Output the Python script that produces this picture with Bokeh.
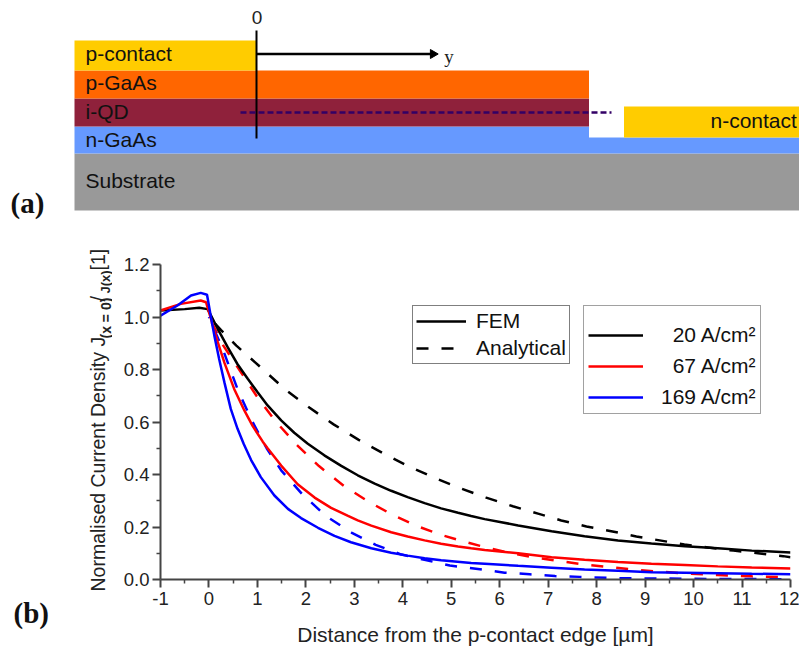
import math
from bokeh.core.properties import value
from bokeh.embed import file_html
from bokeh.resources import INLINE
from bokeh.layouts import column, row
from bokeh.models import (Range1d, LinearAxis, FixedTicker, Legend, LegendItem, NumeralTickFormatter)
from bokeh.plotting import figure

# ---- panel (a): layer stack, page pixel coordinates
layer_names = ["Substrate", "n-GaAs", "n-GaAs step", "i-QD", "p-GaAs", "p-contact", "n-contact"]
layer_left = [74, 74, 588.5, 74, 74, 74, 623.5]
layer_right = [799, 588.5, 799, 588.5, 588.5, 256, 799]
layer_top = [153, 126, 137, 98, 70, 40, 106]
layer_bottom = [210, 153, 153, 126, 98, 70, 137]
layer_colors = ["#999999", "#6699FF", "#6699FF", "#8F213B", "#FF6600", "#FFCC00", "#FFCC00"]
label_text = ["p-contact", "p-GaAs", "i-QD", "n-GaAs", "Substrate", "n-contact"]
label_x = [85, 85, 85, 85, 85, 710]
label_y = [53, 82, 111, 139, 180, 120]

# ---- panel (b): curves
x_black = [-1, -0.5, -0.2, -0.03, 0.03, 0.18, 0.386, 0.59, 0.8, 1.0, 1.21, 1.49, 1.76, 2.04, 2.38, 2.73, 3.07, 3.42, 3.76, 4.1, 4.45, 4.79, 5.14, 5.41, 5.69, 6.38, 7.07, 7.75, 8.44, 9.13, 9.82, 10.5, 11.2, 12]
y_black = [1.025, 1.03, 1.035, 1.03, 1.01, 0.955, 0.885, 0.82, 0.765, 0.714, 0.663, 0.606, 0.559, 0.517, 0.473, 0.433, 0.397, 0.365, 0.338, 0.314, 0.291, 0.271, 0.254, 0.242, 0.230, 0.206, 0.184, 0.165, 0.149, 0.137, 0.127, 0.119, 0.11, 0.103]
x_red = [-1, -0.58, -0.17, -0.06, 0.03, 0.18, 0.32, 0.52, 0.73, 0.9, 1.11, 1.21, 1.49, 1.83, 2.18, 2.52, 2.87, 3.07, 3.35, 3.76, 4.1, 4.45, 4.79, 5.14, 5.41, 5.69, 6.38, 7.07, 7.75, 8.44, 9.13, 9.82, 10.5, 11.2, 12]
y_red = [1.025, 1.05, 1.063, 1.056, 1.0, 0.905, 0.825, 0.726, 0.644, 0.585, 0.525, 0.5, 0.434, 0.363, 0.312, 0.273, 0.242, 0.225, 0.205, 0.18, 0.164, 0.149, 0.136, 0.126, 0.119, 0.112, 0.10, 0.085, 0.075, 0.067, 0.06, 0.055, 0.05, 0.046, 0.042]
x_blue = [-1, -0.65, -0.37, -0.17, -0.04, 0.04, 0.11, 0.21, 0.32, 0.45, 0.59, 0.72, 0.87, 1.07, 1.35, 1.63, 1.9, 2.25, 2.59, 2.93, 3.35, 3.76, 4.1, 4.45, 4.79, 5.41, 5.69, 6.38, 7.07, 7.75, 8.44, 9.13, 9.82, 10.5, 11.2, 12]
y_blue = [1.005, 1.044, 1.082, 1.092, 1.085, 1.0, 0.93, 0.84, 0.75, 0.65, 0.574, 0.515, 0.455, 0.39, 0.32, 0.269, 0.234, 0.197, 0.166, 0.142, 0.119, 0.102, 0.091, 0.081, 0.073, 0.063, 0.06, 0.052, 0.045, 0.038, 0.033, 0.028, 0.026, 0.024, 0.022, 0.02]
xd_black = [0, 0.25, 0.565, 1.07, 1.56, 2.07, 2.58, 3.09, 3.6, 4.1, 4.62, 5.12, 5.72, 6.27, 6.79, 7.27, 7.79, 8.3, 8.82, 9.3, 9.81, 10.3, 10.82, 11.33, 11.85, 12]
yd_black = [1.0, 0.95, 0.891, 0.808, 0.726, 0.655, 0.59, 0.532, 0.48, 0.433, 0.39, 0.352, 0.312, 0.279, 0.251, 0.225, 0.202, 0.184, 0.164, 0.149, 0.133, 0.122, 0.11, 0.10, 0.089, 0.085]
xd_red = [0, 0.3, 0.64, 0.98, 1.36, 1.79, 2.27, 2.78, 3.29, 3.8, 4.3, 4.81, 5.31, 5.72, 6.24, 6.72, 7.23, 7.75, 8.27, 8.79, 9.3, 9.81, 10.5, 11.2, 12]
yd_red = [1.0, 0.89, 0.795, 0.70, 0.606, 0.517, 0.432, 0.357, 0.297, 0.245, 0.203, 0.169, 0.142, 0.122, 0.10, 0.084, 0.07, 0.057, 0.047, 0.037, 0.03, 0.023, 0.017, 0.012, 0.008]
xd_blue = [0, 0.3, 0.6, 0.9, 1.19, 1.49, 1.93, 2.42, 2.94, 3.44, 3.97, 4.47, 4.97, 5.55, 6.1, 6.62, 7.14, 7.65, 8.44, 9.13, 9.82, 10.5, 12]
yd_blue = [1.0, 0.87, 0.72, 0.60, 0.50, 0.416, 0.324, 0.241, 0.179, 0.132, 0.095, 0.074, 0.053, 0.04, 0.026, 0.02, 0.013, 0.01, 0.005, 0.004, 0.003, 0.002, 0.001]
x_ticks = list(range(-1, 13))
x_minor = [v + 0.5 for v in range(-1, 12)]
y_ticks = [0.0, 0.2, 0.4, 0.6, 0.8, 1.0, 1.2]
y_minor = [0.1, 0.3, 0.5, 0.7, 0.9, 1.1]

# y axis title pieces: text, page y where it starts, page x of baseline, size, style
ylabel_text = ["Normalised Current Density J", "(x = 0)", "/", "J(x)", "[1]"]
ylabel_start = [591, 338, 301, 293, 270]
ylabel_base = [97, 105, 97, 105, 97]
ylabel_size = ["19.5px", "14px", "19.5px", "13px", "19.5px"]
ylabel_style = ["normal", "bold", "normal", "bold", "normal"]

SANS = "Liberation Sans"
SERIF = "Liberation Serif"
DASH = "12 13"
TOP_H = 223
BOT_H = 426
SIDE_W = 112
FRAME_BOTTOM = 579
FRAME_LEFT = 160

# ---- panel (a) figure
top = figure(width=799, height=TOP_H, output_backend="svg", toolbar_location=None,
             x_range=Range1d(0, 799), y_range=Range1d(TOP_H, 0), x_axis_type=None, y_axis_type=None,
             min_border=0, outline_line_color=None)
top.frame_align = False
top.grid.visible = False
top.quad(left=layer_left, right=layer_right, top=layer_top, bottom=layer_bottom,
         fill_color=layer_colors, line_color=None)
top.segment(x0=[256], y0=[30], x1=[256], y1=[138], line_color="black", line_width=2)
top.segment(x0=[256], y0=[53.5], x1=[431], y1=[53.5], line_color="black", line_width=2.5)
top.scatter(x=[432.5], y=[53.5], marker="triangle", size=9, angle=-math.pi / 2,
            fill_color="black", line_color="black")
top.segment(x0=[240], y0=[112], x1=[611], y1=[112], line_color="#330066", line_width=2.5, line_dash="6 3")
top.text(x=label_x, y=label_y, text=label_text, text_font=value(SANS),
         text_font_size="21px", text_baseline="middle", text_color="#111111")
top.text(x=[256.5], y=[17], text=["0"], text_font=value(SANS), text_font_size="19px",
         text_align="center", text_baseline="middle", text_color="#222222")
top.text(x=[448.5], y=[56], text=["y"], text_font=value(SERIF), text_font_size="19px",
         text_align="center", text_baseline="alphabetic", text_color="#222222")
top.text(x=[10], y=[202], text=["(a)"], text_font=value(SERIF), text_font_style="bold",
         text_font_size="29px", text_baseline="alphabetic", text_color="#111111")

# ---- strip left of panel (b): y axis title and panel letter
side = figure(width=SIDE_W, height=BOT_H, output_backend="svg", toolbar_location=None,
              x_range=Range1d(0, SIDE_W), y_range=Range1d(TOP_H + BOT_H, TOP_H),
              x_axis_type=None, y_axis_type=None, min_border=0, outline_line_color=None)
side.frame_align = False
side.grid.visible = False
for txt, ys, xs, size, style in zip(ylabel_text, ylabel_start, ylabel_base, ylabel_size, ylabel_style):
    side.text(x=[xs], y=[ys], text=[txt], angle=math.pi / 2, text_font=value(SANS), text_font_size=size,
              text_font_style=style, text_color="#222222", text_baseline="alphabetic")
side.text(x=[13], y=[612], text=["(b)"], text_font=value(SERIF), text_font_size="29px",
          text_font_style="bold", text_color="#111111", text_baseline="alphabetic")

# ---- panel (b) figure
p = figure(width=799 - SIDE_W, height=BOT_H, output_backend="svg", toolbar_location=None,
           x_range=Range1d(-1, 12), y_range=Range1d(0, 1.2), x_axis_type=None, y_axis_type=None,
           min_border_left=FRAME_LEFT - SIDE_W, min_border_right=9, min_border_top=41,
           min_border_bottom=TOP_H + BOT_H - FRAME_BOTTOM, outline_line_color=None)
p.frame_align = False
p.grid.visible = False

xax = LinearAxis(ticker=FixedTicker(ticks=x_ticks, minor_ticks=x_minor),
                 axis_label="Distance from the p-contact edge [µm]")
yax = LinearAxis(ticker=FixedTicker(ticks=y_ticks, minor_ticks=y_minor), axis_label=None)
for ax in (xax, yax):
    ax.axis_line_color = "#444444"
    ax.axis_line_width = 2
    ax.major_tick_line_color = "#444444"
    ax.major_tick_line_width = 2
    ax.minor_tick_line_color = "#444444"
    ax.minor_tick_line_width = 1.5
    ax.major_tick_in = 0
    ax.major_tick_out = 8
    ax.minor_tick_in = 0
    ax.minor_tick_out = 4
    ax.major_label_text_font = SANS
    ax.major_label_text_font_size = "18.5px"
    ax.major_label_text_color = "#222222"
    ax.axis_label_text_font = SANS
    ax.axis_label_text_font_size = "21px"
    ax.axis_label_text_font_style = "normal"
    ax.axis_label_text_color = "#222222"
xax.major_label_overrides = {-1: "-1"}
yax.formatter = NumeralTickFormatter(format="0.0")
xax.major_label_standoff = 4
xax.axis_label_standoff = 15
yax.major_label_standoff = 3
p.add_layout(xax, "below")
p.add_layout(yax, "left")

lw = 2.5
p.line(xd_black, yd_black, line_color="black", line_width=lw, line_dash=DASH, line_dash_offset=16)
p.line(xd_red, yd_red, line_color="red", line_width=lw, line_dash=DASH, line_dash_offset=19)
p.line(xd_blue, yd_blue, line_color="blue", line_width=lw, line_dash=DASH, line_dash_offset=11)
r_black = p.line(x_black, y_black, line_color="black", line_width=lw)
r_red = p.line(x_red, y_red, line_color="red", line_width=lw)
r_blue = p.line(x_blue, y_blue, line_color="blue", line_width=lw)
# legend keys only: lie outside the fixed ranges
k_solid = p.line([-5, -4], [-5, -4], line_color="black", line_width=lw)
k_dash = p.line([-5, -4], [-5, -4], line_color="black", line_width=lw, line_dash=DASH)

def style_legend(lg, border, bw):
    lg.label_text_font = SANS
    lg.label_text_font_size = "21px"
    lg.label_text_color = "#111111"
    lg.border_line_color = border
    lg.border_line_width = bw
    lg.background_fill_alpha = 1
    lg.margin = 0

lg1 = Legend(items=[LegendItem(label="FEM", renderers=[k_solid]),
                    LegendItem(label="Analytical", renderers=[k_dash])],
             location=(252, 215))
style_legend(lg1, "black", 1)
lg1.padding = 3
lg1.glyph_width = 50
lg1.glyph_height = 22
lg1.label_height = 22
lg1.spacing = 3
lg1.label_standoff = 10
lg2 = Legend(items=[LegendItem(label="\u200720 A/cm\u00b2", renderers=[r_black]),
                    LegendItem(label="\u200767 A/cm\u00b2", renderers=[r_red]),
                    LegendItem(label="169 A/cm\u00b2", renderers=[r_blue])],
             location=(423, 165))
style_legend(lg2, "#444444", 1.5)
lg2.padding = 4
lg2.glyph_width = 55
lg2.glyph_height = 18
lg2.label_height = 18
lg2.spacing = 7
lg2.label_standoff = 18
lg2.title = "\u00a0"
lg2.title_text_font_size = "8px"
lg2.title_standoff = 4
p.add_layout(lg1)
p.add_layout(lg2)

open("out.html", "w").write(file_html(column(top, row(side, p, spacing=0), spacing=0), INLINE))
